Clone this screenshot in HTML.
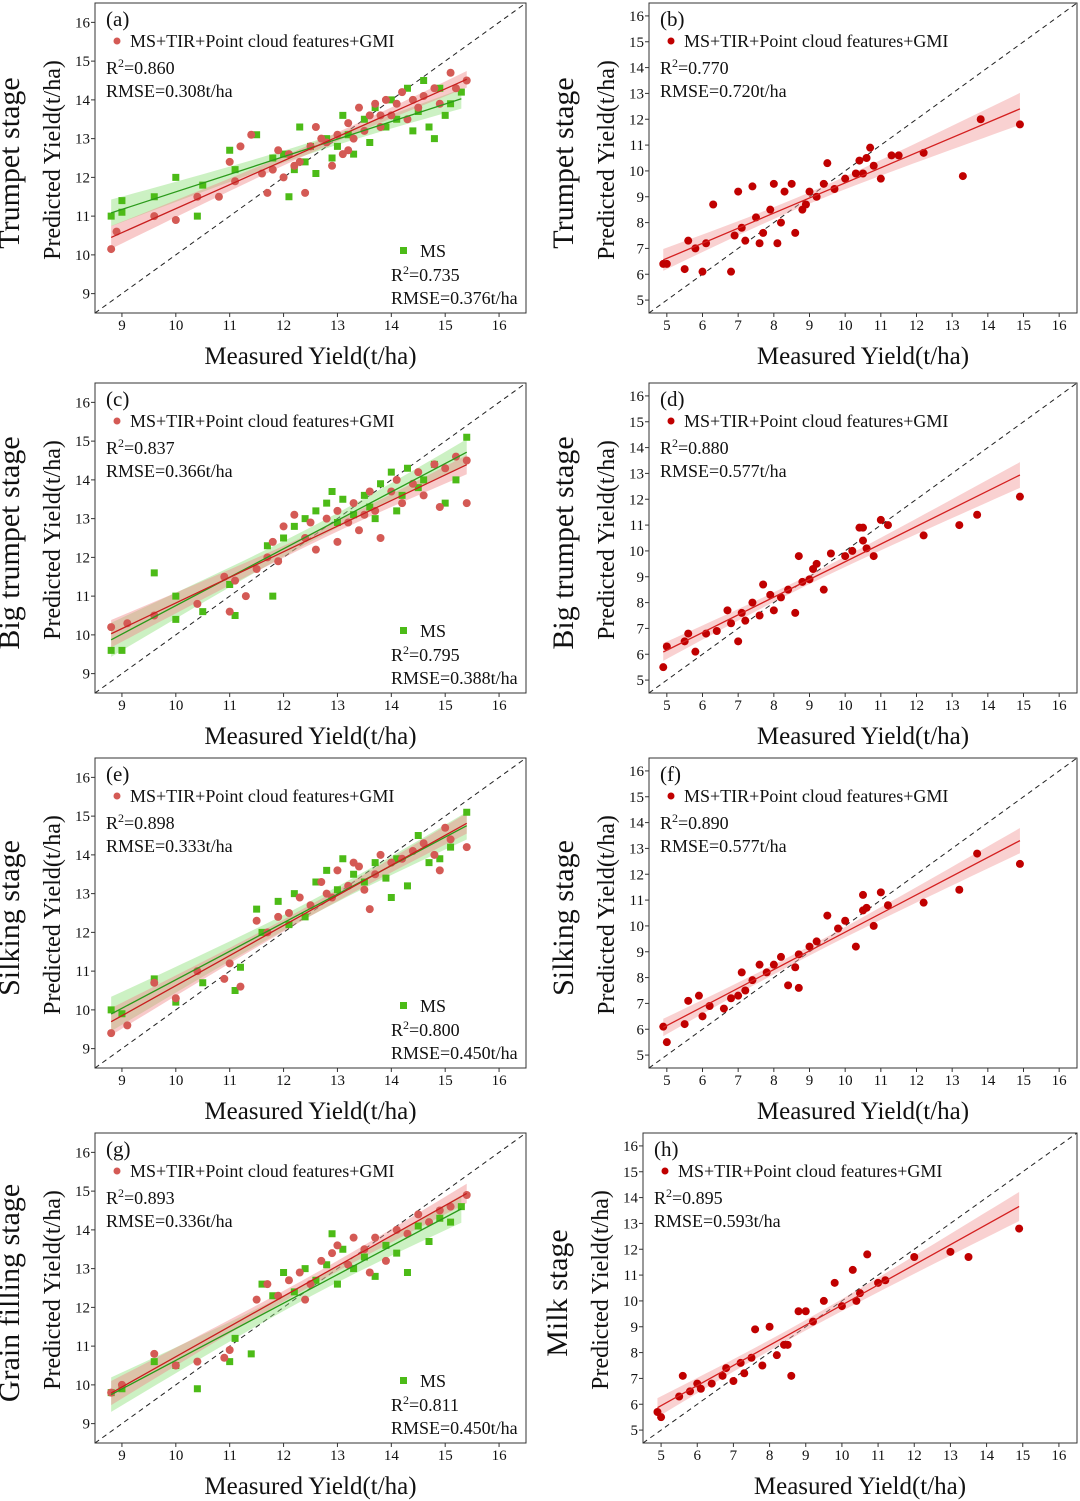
<!DOCTYPE html>
<html><head><meta charset="utf-8"><style>
html,body{margin:0;padding:0;background:#fff;}
svg{display:block;font-family:"Liberation Serif",serif;}
</style></head><body>
<svg id="fig" width="1080" height="1501" viewBox="0 0 1080 1501" xmlns="http://www.w3.org/2000/svg"></svg>
<script>
// ---- data ----
const aRed=[[8.8,10.15],[8.9,10.6],[9.6,11.0],[10,10.9],[10.4,11.5],[10.8,11.5],[11,12.4],[11.1,11.9],[11.2,12.8],[11.4,13.1],[11.6,12.1],[11.8,12.2],[11.9,12.7],[12.0,12.0],[12.1,12.6],[12.3,12.4],[12.4,11.6],[12.5,12.8],[12.6,13.3],[12.8,12.9],[12.9,12.3],[13.0,13.1],[13.1,12.6],[13.2,13.4],[13.3,13.0],[13.4,13.8],[13.5,13.2],[13.6,13.6],[13.7,13.9],[13.8,13.3],[13.9,14.0],[14.0,13.6],[14.1,13.9],[14.2,14.2],[14.3,13.5],[14.4,14.0],[14.5,13.8],[14.6,14.1],[14.8,14.3],[14.9,13.9],[15.1,14.7],[15.2,14.3],[15.4,14.5],[13.2,12.7],[12.2,12.3],[11.7,11.6],[12.7,13.0],[13.8,13.6]];
const aGreen=[[8.8,11.0],[9.0,11.4],[9.0,11.1],[9.6,11.5],[10.0,12.0],[10.4,11.0],[10.5,11.8],[11.0,12.7],[11.1,12.2],[11.5,13.1],[11.8,12.5],[12.0,12.6],[12.1,11.5],[12.2,12.2],[12.3,13.3],[12.5,12.8],[12.6,12.1],[12.8,13.0],[12.9,12.5],[13.0,12.8],[13.2,13.1],[13.3,12.6],[13.5,13.5],[13.6,12.9],[13.7,13.8],[13.9,13.3],[14.0,14.0],[14.1,13.5],[14.3,14.3],[14.4,13.2],[14.5,13.7],[14.6,14.5],[14.7,13.3],[14.9,14.3],[15.0,13.6],[15.1,13.9],[15.3,14.2],[14.8,13.0],[13.1,13.6],[12.4,12.4]];
const bRed=[[4.9,6.4],[5.0,6.4],[5.5,6.2],[5.6,7.3],[5.8,7.0],[6.0,6.1],[6.1,7.2],[6.3,8.7],[6.8,6.1],[6.9,7.5],[7.0,9.2],[7.1,7.8],[7.2,7.3],[7.4,9.4],[7.5,8.2],[7.6,7.2],[7.7,7.6],[7.9,8.5],[8.0,9.5],[8.2,8.0],[8.3,9.2],[8.5,9.5],[8.6,7.6],[8.8,8.5],[8.9,8.7],[9.0,9.2],[9.2,9.0],[9.4,9.5],[9.5,10.3],[9.7,9.3],[10.0,9.7],[10.3,9.9],[10.5,9.9],[10.6,10.5],[10.7,10.9],[10.8,10.2],[11.0,9.7],[11.3,10.6],[11.5,10.6],[12.2,10.7],[13.3,9.8],[13.8,12.0],[14.9,11.8],[10.4,10.4],[8.1,7.2]];
const cRed=[[8.8,10.2],[9.1,10.3],[9.6,10.5],[10.4,10.8],[10.9,11.5],[11.0,10.6],[11.1,11.4],[11.5,11.7],[11.7,12.0],[11.8,12.4],[11.9,11.9],[12.0,12.8],[12.2,13.1],[12.4,12.5],[12.6,12.2],[12.8,13.0],[13.0,12.4],[13.0,13.2],[13.2,12.9],[13.3,13.4],[13.5,13.1],[13.6,13.7],[13.7,13.2],[13.8,12.5],[14.0,13.7],[14.1,14.0],[14.2,13.4],[14.4,13.9],[14.5,14.2],[14.6,13.6],[14.8,14.4],[15.0,14.3],[15.2,14.6],[15.4,13.4],[15.4,14.5],[12.5,12.9],[13.4,12.7],[11.3,11.0],[14.9,13.3]];
const cGreen=[[8.8,9.6],[9.0,9.6],[9.6,11.6],[10.0,10.4],[10.0,11.0],[10.5,10.6],[11.0,11.3],[11.1,10.5],[11.8,11.0],[11.7,12.3],[12.0,12.5],[12.2,12.8],[12.4,13.0],[12.6,13.2],[12.8,13.4],[13.0,12.9],[13.1,13.5],[13.3,13.1],[13.5,13.6],[13.7,13.0],[13.8,13.9],[14.0,14.2],[14.2,13.6],[14.3,14.3],[14.5,13.8],[14.6,14.0],[14.8,14.4],[15.0,13.4],[15.2,14.0],[15.4,15.1],[12.9,13.7],[13.6,13.3],[14.1,13.2]];
const dRed=[[4.9,5.5],[5.0,6.3],[5.5,6.5],[5.6,6.8],[5.8,6.1],[6.1,6.8],[6.4,6.9],[6.7,7.7],[6.8,7.2],[7.0,6.5],[7.1,7.6],[7.2,7.3],[7.4,8.0],[7.6,7.5],[7.7,8.7],[7.9,8.3],[8.0,7.7],[8.2,8.2],[8.4,8.5],[8.6,7.6],[8.7,9.8],[8.8,8.8],[9.0,8.9],[9.2,9.5],[9.4,8.5],[9.6,9.9],[10.0,9.8],[10.2,10.0],[10.4,10.9],[10.5,10.4],[10.6,10.1],[10.8,9.8],[11.0,11.2],[11.2,11.0],[12.2,10.6],[13.2,11.0],[13.7,11.4],[14.9,12.1],[10.5,10.9],[9.1,9.3]];
const eRed=[[8.8,9.4],[9.1,9.6],[9.6,10.7],[10.0,10.3],[10.4,11.0],[10.9,10.8],[11.0,11.2],[11.5,12.3],[11.7,12.0],[11.9,12.4],[12.1,12.5],[12.3,12.9],[12.5,12.7],[12.7,13.3],[12.9,12.9],[13.0,13.6],[13.2,13.2],[13.4,13.7],[13.5,13.1],[13.6,12.6],[13.7,13.5],[13.8,14.0],[14.0,13.8],[14.2,13.9],[14.4,14.1],[14.6,14.3],[14.8,14.0],[15.0,14.7],[15.1,14.4],[15.4,14.2],[11.2,10.6],[12.8,13.0],[13.3,13.8],[14.9,13.6]];
const eGreen=[[8.8,10.0],[9.0,9.9],[9.6,10.8],[10.0,10.2],[10.5,10.7],[11.1,10.5],[11.2,11.1],[11.5,12.6],[11.6,12.0],[11.9,12.8],[12.2,13.0],[12.4,12.4],[12.6,13.3],[12.8,13.6],[13.0,13.1],[13.1,13.9],[13.3,13.5],[13.5,13.3],[13.7,13.8],[13.9,13.4],[14.1,13.9],[14.3,13.2],[14.5,14.5],[14.7,13.8],[14.9,13.9],[15.1,14.2],[15.4,15.1],[14.0,12.9],[12.1,12.2]];
const fRed=[[4.9,6.1],[5.0,5.5],[5.5,6.2],[5.6,7.1],[5.9,7.3],[6.0,6.5],[6.2,6.9],[6.6,6.8],[6.8,7.2],[7.0,7.3],[7.1,8.2],[7.2,7.5],[7.4,7.9],[7.6,8.5],[7.8,8.2],[8.0,8.5],[8.2,8.8],[8.4,7.7],[8.6,8.4],[8.7,8.9],[9.0,9.2],[9.2,9.4],[9.5,10.4],[9.8,9.9],[10.0,10.2],[10.3,9.2],[10.5,11.2],[10.6,10.7],[10.8,10.0],[11.0,11.3],[11.2,10.8],[12.2,10.9],[13.2,11.4],[13.7,12.8],[14.9,12.4],[10.5,10.6],[8.7,7.6]];
const gRed=[[8.8,9.8],[9.0,10.0],[9.6,10.8],[10.0,10.5],[10.4,10.6],[10.9,10.7],[11.0,10.9],[11.5,12.2],[11.7,12.6],[11.9,12.3],[12.1,12.7],[12.3,12.9],[12.5,12.6],[12.7,13.2],[12.9,13.4],[13.0,13.6],[13.2,13.1],[13.3,13.8],[13.5,13.5],[13.7,13.8],[13.9,13.2],[14.1,14.0],[14.3,13.9],[14.5,14.4],[14.7,14.2],[14.9,14.5],[15.1,14.6],[15.4,14.9],[12.4,12.2],[13.6,12.9]];
const gGreen=[[8.8,9.8],[9.0,9.9],[9.6,10.6],[10.0,10.5],[10.4,9.9],[11.0,10.6],[11.1,11.2],[11.4,10.8],[11.6,12.6],[11.8,12.3],[12.0,12.9],[12.2,12.4],[12.4,13.0],[12.6,12.7],[12.8,13.1],[13.0,12.6],[13.1,13.5],[13.3,13.0],[13.5,13.3],[13.7,12.8],[13.9,13.6],[14.1,13.4],[14.3,12.9],[14.5,14.1],[14.7,13.7],[14.9,14.3],[15.1,14.2],[15.3,14.6],[12.9,13.9]];
const hRed=[[4.9,5.7],[5.0,5.5],[5.5,6.3],[5.6,7.1],[5.8,6.5],[6.0,6.8],[6.1,6.6],[6.4,6.8],[6.7,7.1],[6.8,7.4],[7.0,6.9],[7.2,7.6],[7.3,7.2],[7.5,7.8],[7.6,8.9],[7.8,7.5],[8.0,9.0],[8.2,7.9],[8.4,8.3],[8.6,7.1],[8.8,9.6],[9.0,9.6],[9.2,9.2],[9.5,10.0],[9.8,10.7],[10.0,9.8],[10.3,11.2],[10.5,10.3],[10.7,11.8],[11.0,10.7],[11.2,10.8],[12.0,11.7],[13.0,11.9],[13.5,11.7],[14.9,12.8],[10.4,10.0],[8.5,8.3]];
const leftTicks=[9,10,11,12,13,14,15,16];
const rightTicks=[5,6,7,8,9,10,11,12,13,14,15,16];
const panelLabels=["(a)","(b)","(c)","(d)","(e)","(f)","(g)","(h)"];
const stageNames=["Trumpet stage","Trumpet stage","Big trumpet stage","Big trumpet stage","Silking stage","Silking stage","Grain filling stage","Milk stage"];
const mainStats=[["0.860","0.308"],["0.770","0.720"],["0.837","0.366"],["0.880","0.577"],["0.898","0.333"],["0.890","0.577"],["0.893","0.336"],["0.895","0.593"]];
const msStats=[["0.735","0.376"],null,["0.795","0.388"],null,["0.800","0.450"],null,["0.811","0.450"],null];

const NS="http://www.w3.org/2000/svg";
const svg=document.getElementById('fig');
function mk(tag,attrs,parent){const e=document.createElementNS(NS,tag);for(const k in attrs)e.setAttribute(k,attrs[k]);(parent||svg).appendChild(e);return e;}
function txt(s,x,y,size,parent,anchor){const t=mk('text',{x:x,y:y,'font-size':size,fill:'#111','text-anchor':anchor||'start'},parent);t.textContent=s;return t;}
function r2text(val,x,y,parent){
  const t=mk('text',{x:x,y:y,'font-size':18,fill:'#111'},parent);
  const a=mk('tspan',{},t);a.textContent='R';
  const b=mk('tspan',{'font-size':12,dy:-7},t);b.textContent='2';
  const c=mk('tspan',{dy:7},t);c.textContent='='+val;
  return t;
}
function fit(pts){const n=pts.length;let mx=0,my=0;pts.forEach(p=>{mx+=p[0];my+=p[1];});mx/=n;my/=n;let sxx=0,sxy=0;pts.forEach(p=>{sxx+=(p[0]-mx)**2;sxy+=(p[0]-mx)*(p[1]-my);});const b=sxy/sxx,a=my-b*mx;let sse=0;pts.forEach(p=>{sse+=(p[1]-a-b*p[0])**2;});const s=Math.sqrt(sse/(n-2));return {a,b,mx,sxx,s,n,xmin:Math.min(...pts.map(p=>p[0])),xmax:Math.max(...pts.map(p=>p[0]))};}

function panel(i,box,dom,ticks,series){
  const g=mk('g',{});
  
  
  const X=v=>box.x+(v-dom[0])/(dom[1]-dom[0])*box.w;
  const Y=v=>box.y+box.h-(v-dom[0])/(dom[1]-dom[0])*box.h;
  const d=mk('line',{x1:X(dom[0]),y1:Y(dom[0]),x2:X(dom[1]),y2:Y(dom[1]),stroke:'#222','stroke-width':1,'stroke-dasharray':'5,4'},g);
  
  
  series.forEach(s=>{
    const f=fit(s.pts);let up=[],lo=[];
    for(let k=0;k<=30;k++){const x=f.xmin+(f.xmax-f.xmin)*k/30;const y=f.a+f.b*x;const se=1.96*f.s*Math.sqrt(1/f.n+(x-f.mx)**2/f.sxx);up.push(X(x)+','+Y(y+se));lo.unshift(X(x)+','+Y(y-se));}
    const band=mk('polygon',{points:up.concat(lo).join(' '),fill:s.band,opacity:0.45},g);
    
    
    s.fit=f;
  });
  series.forEach(s=>{
    s.pts.forEach(p=>{
      let m;
      if(s.shape==='sq'){m=mk('rect',{x:X(p[0])-3.5,y:Y(p[1])-3.5,width:7,height:7,fill:s.color},g);}
      else{m=mk('circle',{cx:X(p[0]),cy:Y(p[1]),r:s.r||4,fill:s.color},g);}
      
      
    });
  });
  series.forEach(s=>{
    const f=s.fit;
    const l=mk('line',{x1:X(f.xmin),y1:Y(f.a+f.b*f.xmin),x2:X(f.xmax),y2:Y(f.a+f.b*f.xmax),stroke:s.line,'stroke-width':1.3},g);
    
    
  });
  const fr=mk('rect',{x:box.x,y:box.y,width:box.w,height:box.h,fill:'none',stroke:'#333','stroke-width':1},g);
  
  
  ticks.forEach(t=>{
    mk('line',{x1:X(t),y1:box.y+box.h,x2:X(t),y2:box.y+box.h+4,stroke:'#333'},g);
    const xl=txt(String(t),X(t),box.y+box.h+17,15,g,'middle');
    
    
    mk('line',{x1:box.x-4,y1:Y(t),x2:box.x,y2:Y(t),stroke:'#333'},g);
    const yl=txt(String(t),box.x-5,Y(t)+5,15,g,'end');
    
    
  });
  const pl=txt(panelLabels[i],box.x+11,box.y+23,21,g);
  
  
  const mc=series[series.length-1].color;
  const lg=mk('circle',{cx:box.x+22,cy:box.y+38,r:3.5,fill:mc},g);
  
  
  const lt=txt('MS+TIR+Point cloud features+GMI',box.x+35,box.y+44,18,g);
  
  
  const r2=r2text(mainStats[i][0],box.x+11,box.y+71,g);
  
  
  const rm=txt('RMSE='+mainStats[i][1]+'t/ha',box.x+11,box.y+94,18,g);
  
  
  if(msStats[i]){
    const sq=mk('rect',{x:box.x+305,y:box.y+244,width:7,height:7,fill:'#4cbb17'},g);
    
    
    const ms=txt('MS',box.x+325,box.y+254,18,g);
    
    
    const r2b=r2text(msStats[i][0],box.x+296,box.y+278,g);
    
    
    const rmb=txt('RMSE='+msStats[i][1]+'t/ha',box.x+296,box.y+301,18,g);
    
    
  }
  const cx=box.x+box.w/2;
  const xt=txt('Measured Yield(t/ha)',cx,box.y+box.h+51,25,g,'middle');
  
  
  const cy=box.y+box.h/2;
  const ytx=box.x-35;
  const yt=txt('Predicted Yield(t/ha)',0,0,24,g,'middle');
  yt.setAttribute('transform','translate('+ytx+','+(cy+2)+') rotate(-90)');
  
  
  const stx=box.x-76;
  const st=txt(stageNames[i],0,0,30,g,'middle');
  st.setAttribute('transform','translate('+stx+','+(cy+5)+') rotate(-90)');
  
  
}
const tops=[3,383,758,1133];
const lightRed='#d45a55',green='#4cbb17',darkRed='#c00000';
const L=(i,r,gr)=>panel(i,{x:95,y:tops[i>>1],w:431,h:310},[8.5,16.5],leftTicks,[
  {key:'ms',pts:gr,color:green,shape:'sq',band:'#8fe07a',line:'#2a9a1a'},
  {key:'fusion',pts:r,color:lightRed,band:'#f08a8a',line:'#c81e1e'}]);
const R=(i,r,bx)=>panel(i,{x:bx,y:tops[i>>1],w:1077-bx,h:310},[4.5,16.5],rightTicks,[
  {key:'fusion',pts:r,color:darkRed,band:'#f19a9a',line:'#d42020',r:4}]);
L(0,aRed,aGreen);R(1,bRed,649);
L(2,cRed,cGreen);R(3,dRed,649);
L(4,eRed,eGreen);R(5,fRed,649);
L(6,gRed,gGreen);R(7,hRed,643);
</script>
</body></html>
